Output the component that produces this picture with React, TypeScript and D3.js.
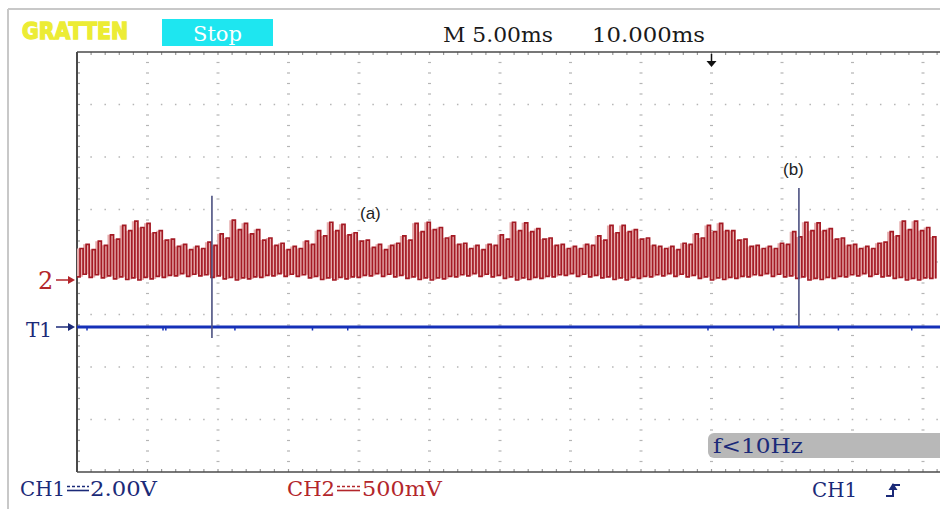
import React from "react";
import * as d3 from "d3";

// ---------- data ----------
const msPerDiv = 5;
const hDivs = 12;
const vDivs = 8;
const ch2mVPerDiv = 500;
const ch1VPerDiv = 2;
const carrierPeriodMs = 0.432;

// CH2 per-cycle highs / lows (mV)
const ch2HighmV = [
  300, 340, 290, 370, 330, 430, 390, 520, 470, 560, 500, 540, 450, 470, 380, 390,
  320, 340, 290, 320, 300, 360, 330, 440, 400, 570, 480, 540, 440, 480, 380, 400,
  330, 350, 290, 320, 300, 370, 340, 470, 420, 550, 470, 530, 430, 450, 370, 380,
  310, 340, 290, 330, 350, 420, 380, 540, 460, 550, 480, 500, 400, 420, 340, 350,
  300, 330, 290, 340, 330, 430, 390, 550, 470, 545, 460, 490, 390, 400, 330, 340,
  300, 320, 300, 340, 330, 420, 380, 520, 450, 520, 460, 480, 390, 400, 330, 320,
  300, 320, 290, 350, 340, 440, 400, 520, 460, 540, 470, 470, 380, 390, 320, 330,
  300, 320, 300, 350, 340, 460, 410, 550, 470, 545, 470, 490, 390, 400, 330, 340,
  300, 320, 300, 350, 360, 460, 420, 560, 480, 560, 470, 500, 410,
];
const ch2LowmV = [
  30, 55, 25, 50, 20, 40, 10, 30, 5, 20, 0, 25, 10, 35, 25, 45,
  40, 60, 35, 55, 40, 50, 25, 40, 10, 25, 0, 20, 10, 30, 25, 45,
  40, 60, 35, 55, 35, 50, 20, 35, 5, 20, 0, 25, 10, 30, 25, 45,
  40, 60, 35, 55, 30, 45, 15, 30, 5, 20, 0, 20, 10, 35, 30, 50,
  40, 60, 35, 55, 30, 45, 15, 30, 0, 20, 5, 25, 15, 35, 30, 50,
  45, 60, 35, 55, 30, 45, 20, 30, 5, 20, 0, 25, 15, 35, 30, 50,
  40, 60, 35, 55, 30, 45, 15, 30, 0, 20, 5, 25, 15, 35, 30, 50,
  45, 60, 35, 55, 30, 40, 15, 30, 0, 15, 5, 25, 15, 35, 30, 50,
  40, 60, 35, 55, 30, 40, 15, 25, 0, 15, 0, 20, 15,
];

const ch1SpikeTimesMs = [9.57, 51.2];
const ch1SpikeTopV = [5.0, 5.3];
const ch1SpikeBottomV = [-0.42, 0];
const ch1GlitchTimesMs = [0.71, 6.1, 6.3, 11.2, 16.7, 19.2, 44.75, 49.4, 54.0, 59.2];
const triggerMarkerMs = 45;

const timebaseLabel = "M 5.00ms";
const triggerLabel = "10.000ms";
const ch1Label = ["CH1", "2.00V"];
const ch2Label = ["CH2", "500mV"];
const freqLabel = "f<10Hz";

// ---------- layout ----------
const W = 940, H = 509;
const left = 77, top = 52;
const divW = 70.5, divH = 52.5;
const bottom = top + vDivs * divH;
const ch2Ground = 280;
const ch1Ground = 327;

const navy = "#1b2a78";
const darkRed = "#b3262b";
const serif = "'DejaVu Serif', 'Liberation Serif', serif";

export default function App() {
  const x = d3.scaleLinear().domain([0, hDivs * msPerDiv]).range([left, left + hDivs * divW]);
  const yCh2 = d3.scaleLinear().domain([0, ch2mVPerDiv]).range([ch2Ground, ch2Ground - divH]);
  const yCh1 = d3.scaleLinear().domain([0, ch1VPerDiv]).range([ch1Ground, ch1Ground - divH]);

  const cycles = ch2HighmV.map((h, i) => ({ t: i * carrierPeriodMs, hi: h, lo: ch2LowmV[i] }));
  const linePts: [number, number][] = [];
  cycles.forEach((c) => {
    linePts.push([x(c.t), yCh2(c.lo)]);
    linePts.push([x(c.t + carrierPeriodMs / 2), yCh2(c.hi)]);
  });
  const lastT = cycles.length * carrierPeriodMs;
  linePts.push([x(lastT), yCh2(ch2LowmV[ch2LowmV.length - 1])]);
  const line = d3.line().curve(d3.curveStepAfter)(linePts) || "";
  const areaPts = [...cycles, { t: lastT, hi: ch2HighmV[ch2HighmV.length - 1], lo: ch2LowmV[ch2LowmV.length - 1] }];
  const area =
    d3
      .area<any>()
      .curve(d3.curveStepAfter)
      .x((d) => x(d.t))
      .y0((d) => yCh2(d.lo))
      .y1((d) => yCh2(d.hi))(areaPts) || "";

  // grid dots
  const dots: JSX.Element[] = [];
  for (let k = 1; k < vDivs; k++) {
    const yy = top + k * divH;
    for (let j = 1; left + j * (divW / 5) < W; j++) {
      dots.push(<rect key={`h${k}-${j}`} x={left + j * (divW / 5) - 0.75} y={yy - 0.75} width={1.5} height={1.5} fill="#b5b5b5" />);
    }
  }
  for (let k = 1; left + k * divW < W; k++) {
    const xx = left + k * divW;
    for (let j = 1; j < vDivs * 5; j++) {
      if (j % 5 === 0) continue;
      dots.push(<rect key={`v${k}-${j}`} x={xx - 1.5} y={top + j * (divH / 5) - 0.6} width={3} height={1.2} fill="#b5b5b5" />);
    }
  }
  // edge ticks
  for (let j = 1; j < vDivs * 5; j++) {
    dots.push(<rect key={`l${j}`} x={left} y={top + j * (divH / 5) - 0.6} width={3} height={1.2} fill="#999" />);
  }
  for (let j = 1; left + j * (divW / 5) < W; j++) {
    dots.push(<rect key={`t${j}`} x={left + j * (divW / 5) - 0.6} y={top} width={1.2} height={3} fill="#999" />);
    dots.push(<rect key={`b${j}`} x={left + j * (divW / 5) - 0.6} y={bottom - 3} width={1.2} height={3} fill="#999" />);
  }

  const dcSymbol = (x0: number, x1: number, color: string) => (
    <g>
      <line x1={x0} x2={x1} y1={486.5} y2={486.5} stroke={color} strokeWidth={1.4} strokeDasharray="3 2" />
      <line x1={x0} x2={x1} y1={490.5} y2={490.5} stroke={color} strokeWidth={1.6} />
    </g>
  );

  return (
    <svg width={W} height={H} style={{ position: "absolute", left: 0, top: 0, background: "#fff" }}>
      {/* outer border */}
      <line x1={8} x2={8} y1={9} y2={H} stroke="#c8c8c8" strokeWidth={2} />
      <line x1={8} x2={W} y1={9} y2={9} stroke="#c8c8c8" strokeWidth={2} />

      {/* header */}
      <text x={22} y={39} fontFamily="'DejaVu Sans', sans-serif" fontWeight="bold" fontSize={23} textLength={106} lengthAdjust="spacingAndGlyphs" fill="#ecec34" stroke="#ecec34" strokeWidth={1.5}>
        GRATTEN
      </text>
      <rect x={162} y={19} width={111} height={27} fill="#1ee6f0" />
      <text x={217.5} y={41} textAnchor="middle" fontFamily={serif} fontSize={21} fill="#fff">
        Stop
      </text>
      <text x={443} y={42} fontFamily={serif} fontSize={21} fill="#1a1a1a" textLength={110} lengthAdjust="spacingAndGlyphs">
        {timebaseLabel}
      </text>
      <text x={592} y={42} fontFamily={serif} fontSize={21} fill="#1a1a1a" textLength={113} lengthAdjust="spacingAndGlyphs">
        {triggerLabel}
      </text>

      {/* grid */}
      {dots}
      <line x1={left} x2={W} y1={top} y2={top} stroke="#4a4a4a" strokeWidth={1.5} />
      <line x1={left} x2={W} y1={bottom} y2={bottom} stroke="#4a4a4a" strokeWidth={1.5} />
      <line x1={left} x2={left} y1={top} y2={bottom} stroke="#4a4a4a" strokeWidth={2} />

      {/* trigger marker */}
      <line x1={x(triggerMarkerMs)} x2={x(triggerMarkerMs)} y1={54} y2={62} stroke="#111" strokeWidth={1.5} />
      <path d={`M${x(triggerMarkerMs) - 5},61 L${x(triggerMarkerMs) + 5},61 L${x(triggerMarkerMs)},67 Z`} fill="#111" />

      {/* CH2 waveform */}
      <path d={area} fill="#e6adae" />
      <path d={line} fill="none" stroke="#a41a24" strokeWidth={1.7} />

      {/* CH1 trace */}
      <line x1={left} x2={W} y1={ch1Ground} y2={ch1Ground} stroke="#1530b8" strokeWidth={3} />
      {ch1GlitchTimesMs.map((t, i) => (
        <line key={i} x1={x(t)} x2={x(t)} y1={ch1Ground} y2={ch1Ground + 3.5} stroke="#1530b8" strokeWidth={1.5} />
      ))}
      {ch1SpikeTimesMs.map((t, i) => (
        <line key={i} x1={x(t)} x2={x(t)} y1={yCh1(ch1SpikeTopV[i])} y2={yCh1(ch1SpikeBottomV[i])} stroke="#4b5080" strokeWidth={1.6} />
      ))}

      {/* annotations */}
      <text x={360} y={219} fontFamily="'Liberation Sans', Arial, sans-serif" fontSize={17} fill="#222">(a)</text>
      <text x={783} y={175} fontFamily="'Liberation Sans', Arial, sans-serif" fontSize={17} fill="#222">(b)</text>

      {/* channel markers */}
      <text x={38} y={289} fontFamily={serif} fontSize={24} fill={darkRed}>2</text>
      <line x1={56} x2={69} y1={ch2Ground} y2={ch2Ground} stroke={darkRed} strokeWidth={1.5} />
      <path d={`M68,${ch2Ground - 4} L75,${ch2Ground} L68,${ch2Ground + 4} Z`} fill={darkRed} />
      <text x={26} y={337} fontFamily={serif} fontSize={21} fill={navy} textLength={26} lengthAdjust="spacingAndGlyphs">T1</text>
      <line x1={56} x2={69} y1={ch1Ground} y2={ch1Ground} stroke={navy} strokeWidth={1.5} />
      <path d={`M68,${ch1Ground - 4} L75,${ch1Ground} L68,${ch1Ground + 4} Z`} fill={navy} />

      {/* frequency box */}
      <rect x={708} y={433} width={250} height={25} rx={6} fill="#b8b8b8" />
      <text x={713} y={453} fontFamily={serif} fontSize={20} fill={navy} textLength={90} lengthAdjust="spacingAndGlyphs">
        {freqLabel}
      </text>

      {/* footer */}
      <text x={20} y={496} fontFamily={serif} fontSize={20} fill={navy} textLength={45} lengthAdjust="spacingAndGlyphs">{ch1Label[0]}</text>
      {dcSymbol(67, 89, navy)}
      <text x={90} y={496} fontFamily={serif} fontSize={20} fill={navy} textLength={67} lengthAdjust="spacingAndGlyphs">{ch1Label[1]}</text>

      <text x={287} y={496} fontFamily={serif} fontSize={20} fill={darkRed} textLength={48} lengthAdjust="spacingAndGlyphs">{ch2Label[0]}</text>
      {dcSymbol(337, 360, darkRed)}
      <text x={362} y={496} fontFamily={serif} fontSize={20} fill={darkRed} textLength={80} lengthAdjust="spacingAndGlyphs">{ch2Label[1]}</text>

      <text x={812} y={497} fontFamily={serif} fontSize={20} fill={navy} textLength={45} lengthAdjust="spacingAndGlyphs">CH1</text>
      <path d="M886,496 H893 V485 H900" fill="none" stroke={navy} strokeWidth={2} />
      <path d="M888.5,490 L897.5,490 L893,483 Z" fill={navy} />
    </svg>
  );
}
